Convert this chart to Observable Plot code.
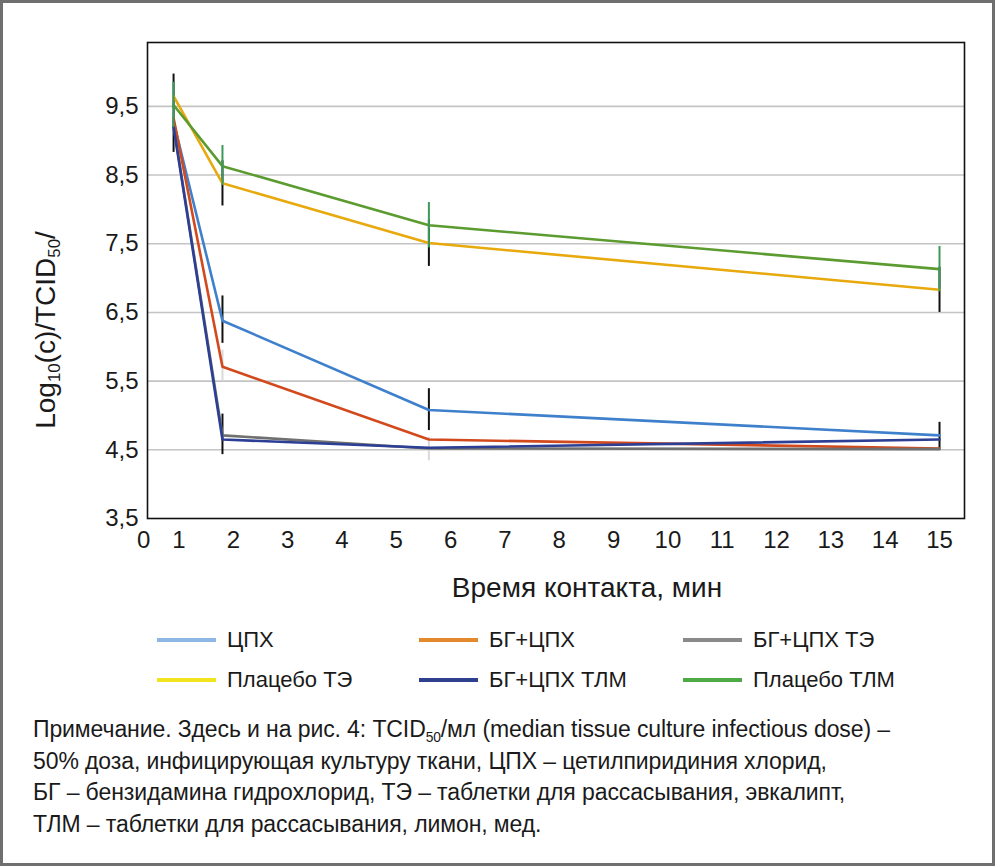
<!DOCTYPE html>
<html><head><meta charset="utf-8">
<script src="https://cdn.jsdelivr.net/npm/d3@7"></script>
<script src="https://cdn.jsdelivr.net/npm/@observablehq/plot@0.6"></script>
<style>
body{margin:0;background:#fff;}
#wrap{position:relative;width:995px;height:866px;overflow:hidden;font-family:"Liberation Sans",Arial,sans-serif;color:#1a1a1a;background:#fff;}
#border{position:absolute;left:0;top:0;width:995px;height:866px;box-sizing:border-box;border:3px solid #6f6f6f;pointer-events:none;}
#chart{position:absolute;left:0;top:0;}
#ylab{position:absolute;left:46px;top:330px;transform:translate(-50%,-50%) rotate(-90deg);font-size:28px;white-space:nowrap;}
#ylab sub{font-size:60%;vertical-align:-0.3em;line-height:0;}
#xlab{position:absolute;left:587px;top:588px;transform:translate(-50%,-50%);font-size:28px;white-space:nowrap;}
.lg{position:absolute;height:30px;display:flex;align-items:center;font-size:22px;white-space:pre;transform:translateY(-50%);}
.sw{width:59px;height:4px;margin-right:11px;}
#note{position:absolute;left:33px;top:714px;font-size:23px;line-height:31.7px;white-space:nowrap;letter-spacing:-0.1px;}
#note sub{font-size:60%;vertical-align:-0.35em;line-height:0;}
</style>
</head><body>
<div id="wrap">
  <div id="chart"></div>
  <div id="ylab">Log<sub>10</sub>(c)/TCID<sub>50</sub>/</div>
  <div id="xlab">Время контакта, мин</div>
  <div id="legend"></div>
  <div id="note">Примечание. Здесь и на рис. 4: TCID<sub>50</sub>/мл (median tissue culture infectious dose) –<br>50% доза, инфицирующая культуру ткани, ЦПХ – цетилпиридиния хлорид,<br>БГ – бензидамина гидрохлорид, ТЭ – таблетки для рассасывания, эвкалипт,<br>ТЛМ – таблетки для рассасывания, лимон, мед.</div>
  <div id="border"></div>
</div>
<script>
// ---- data ----
const times = [0.9, 1.8, 5.6, 15];
const seriesNames = ["ЦПХ", "БГ+ЦПХ", "БГ+ЦПХ ТЭ", "Плацебо ТЭ", "БГ+ЦПХ ТЛМ", "Плацебо ТЛМ"];
const vCPX      = [9.28, 6.38, 5.08, 4.71];
const vBGCPX    = [9.33, 5.71, 4.65, 4.52];
const vBGCPX_TE = [9.22, 4.71, 4.52, 4.51];
const vPlac_TE  = [9.65, 8.38, 7.51, 6.83];
const vBGCPX_TLM= [9.20, 4.65, 4.53, 4.65];
const vPlac_TLM = [9.52, 8.63, 7.77, 7.13];
const seriesValues = [vCPX, vBGCPX, vBGCPX_TE, vPlac_TE, vBGCPX_TLM, vPlac_TLM];

// error bars (low / high), null = not visible
const eLoCPX   = [8.83, 6.05, 4.78, 4.52], eHiCPX   = [9.97, 6.74, 5.39, 4.90];
const eLoBG    = [null, 5.50, 4.34, null], eHiBG    = [null, 5.95, 4.68, null];
const eLoBGTE  = [null, 4.43, null, null], eHiBGTE  = [null, 5.02, null, null];
const eLoPTE   = [null, 8.05, 7.17, 6.50], eHiPTE   = [null, 8.71, 7.85, 7.16];
const eLoBGTLM = [null, null, null, null], eHiBGTLM = [null, null, null, null];
const eLoPTLM  = [9.19, 8.35, 7.44, 6.80], eHiPTLM  = [9.85, 8.93, 8.10, 7.46];
const errLo = [eLoCPX, eLoBG, eLoBGTE, eLoPTE, eLoBGTLM, eLoPTLM];
const errHi = [eHiCPX, eHiBG, eHiBGTE, eHiPTE, eHiBGTLM, eHiPTLM];

const xTicks = [1,2,3,4,5,6,7,8,9,10,11,12,13,14,15];
const xTickZero = [0];
const yTicks = [3.5,4.5,5.5,6.5,7.5,8.5,9.5];

// ---- styles ----
const lineColors   = ["#3f80cc", "#d2491e", "#707070", "#e8a90c", "#2c3f94", "#5b9b30"];
const legendColors = ["#8db7e4", "#e3892c", "#8a8a8a", "#f2e41e", "#2e3f8e", "#4daa47"];
const errColors    = ["#111111", "#d9d9d9", "#111111", "#111111", "#111111", "#3a9a58"];

const rows = [];
seriesNames.forEach((s, i) => seriesValues[i].forEach((v, j) => rows.push({s, t: times[j], v})));
const errRows = [];
seriesNames.forEach((s, i) => times.forEach((t, j) => {
  if (errLo[i][j] != null) errRows.push({s, i, t, lo: errLo[i][j], hi: errHi[i][j]});
}));

const fmt = d => String(d).replace(".", ",");

const chart = Plot.plot({
  width: 995, height: 610,
  marginLeft: 147, marginRight: 31, marginTop: 42, marginBottom: 92,
  style: {fontFamily: '"Liberation Sans", Arial, sans-serif', color: "#1a1a1a", background: "transparent"},
  x: {domain: [0.42, 15.46]},
  y: {domain: [3.5, 10.43]},
  color: {domain: seriesNames, range: lineColors},
  marks: [
    Plot.gridY(yTicks.filter(d => d > 3.5), {stroke: "#c4c4c4", strokeOpacity: 1, strokeWidth: 1.6}),
    Plot.axisY(yTicks, {tickSize: 0, tickPadding: 9, tickFormat: fmt, label: null, fontSize: 24}),
    Plot.axisX(xTicks, {tickSize: 0, tickPadding: 12, label: null, fontSize: 24}),
    Plot.axisX(xTickZero, {tickSize: 0, tickPadding: 12, label: null, fontSize: 24, dx: 19}),
    ...[0,1,2,3,4].map(k => Plot.ruleX(errRows.filter(d => d.i === k), {x: "t", y1: "lo", y2: "hi", stroke: errColors[k], strokeWidth: 2})),
    Plot.line(rows, {x: "t", y: "v", z: "s", stroke: "s", strokeWidth: 2.6}),
    Plot.ruleX(errRows.filter(d => d.i === 5), {x: "t", y1: "lo", y2: "hi", stroke: errColors[5], strokeWidth: 2}),
    Plot.frame({stroke: "#111", strokeWidth: 1.6})
  ]
});
document.getElementById("chart").appendChild(chart);

// legend
const colX = [157, 419, 683];
const rowY = [640, 680];
const lg = document.getElementById("legend");
seriesNames.forEach((s, i) => {
  const d = document.createElement("div");
  d.className = "lg";
  d.style.left = colX[i % 3] + "px";
  d.style.top = rowY[Math.floor(i / 3)] + "px";
  const sw = document.createElement("div");
  sw.className = "sw";
  sw.style.background = legendColors[i];
  d.appendChild(sw);
  const tx = document.createElement("span");
  tx.textContent = s;
  d.appendChild(tx);
  lg.appendChild(d);
});
</script>
</body></html>
